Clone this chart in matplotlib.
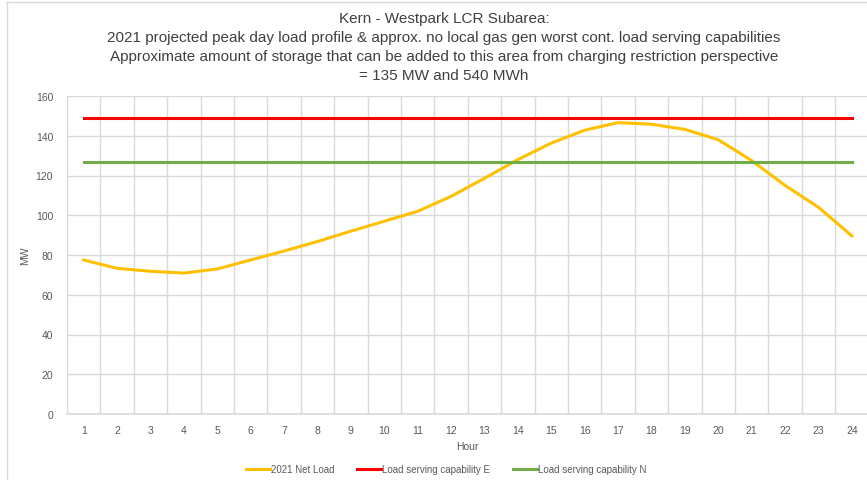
import numpy as np
import matplotlib.pyplot as plt
from matplotlib.lines import Line2D

plt.rcParams['font.family'] = ['Liberation Sans Narrow', 'Liberation Sans', 'DejaVu Sans']

hours = list(range(1, 25))
net_load = [77.5, 73.3, 71.8, 70.9, 73.0, 77.5, 82.0, 86.8, 92.0, 97.0, 102.0, 109.5,
            118.6, 128.0, 136.3, 142.8, 146.6, 145.8, 143.2, 138.0, 127.5, 115.0, 104.0, 89.6]
cap_e = [149] * 24
cap_n = [127] * 24

title = ("Kern - Westpark LCR Subarea:\n"
         "2021 projected peak day load profile & approx. no local gas gen worst cont. load serving capabilities\n"
         "Approximate amount of storage that can be added to this area from charging restriction perspective\n"
         "= 135 MW and 540 MWh")

W, H = 867, 481
fig = plt.figure(figsize=(W / 100, H / 100), dpi=100)
ax = fig.add_axes([67 / W, 1 - 415 / H, 801.6 / W, (415 - 97) / H])

txt = '#595959'
grid = '#D9D9D9'

ax.plot(hours, net_load, color='#FFC000', lw=2.2, label='2021 Net Load', zorder=3)
ax.plot(hours, cap_e, color='#FF0000', lw=2.2, label='Load serving capability E', zorder=3)
ax.plot(hours, cap_n, color='#70AD47', lw=2.2, label='Load serving capability N', zorder=3)

ax.set_xlim(0.5, 24.5)
ax.set_ylim(0, 160)
ax.set_yticks(np.arange(0, 161, 20))
ax.set_xticks(hours)
ax.set_xticks(np.arange(0.5, 25, 1), minor=True)
ax.grid(True, axis='y', color=grid, lw=1)
ax.grid(True, axis='x', which='minor', color=grid, lw=1)
ax.grid(False, axis='x', which='major')
ax.tick_params(axis='both', which='both', length=0, labelsize=7.5, colors=txt)
ax.tick_params(axis='x', pad=8)
ax.tick_params(axis='y', pad=10)
for s in ['top', 'right', 'left']:
    ax.spines[s].set_visible(False)
ax.spines['bottom'].set_color(grid)
ax.spines['bottom'].set_linewidth(1.2)
ax.set_axisbelow(True)

ax.set_xlabel('Hour', fontsize=7.5, color=txt, labelpad=4)
ax.set_ylabel('MW', fontsize=7.5, color=txt)
ax.yaxis.set_label_coords((30 - 67) / 801.6, 0.5)

fig.text(444 / W, 1 - 12 / H, title, ha='center', va='top', fontsize=11, color='#404040',
         linespacing=1.45)

fig.legend(loc='center', bbox_to_anchor=(446 / W, 1 - 470 / H), ncol=3, frameon=False,
           fontsize=7, labelcolor=txt, handlelength=2.5, handletextpad=0.1,
           columnspacing=2.3)

# thin chart-area frame like the spreadsheet export
fig.add_artist(Line2D([7 / W, 7 / W], [0, 1 - 3 / H], color='#D9D9D9', lw=1))
fig.add_artist(Line2D([7 / W, 1], [1 - 3 / H, 1 - 3 / H], color='#D9D9D9', lw=1))

fig.savefig('out.png', dpi=100)
